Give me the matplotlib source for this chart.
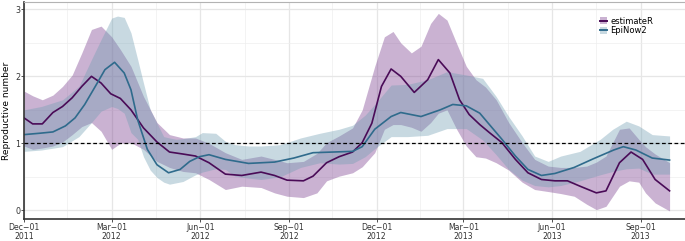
import numpy as np
import matplotlib
matplotlib.use("Agg")
import matplotlib.pyplot as plt
from matplotlib.patches import Rectangle
from matplotlib.lines import Line2D
from matplotlib.legend_handler import HandlerBase

START = np.datetime64("2011-12-01")

# ---- estimateR (days since 2011-12-01) ----
est_days = [0, 9, 19, 30, 40, 50, 60, 70, 80, 90, 100, 111, 124, 138, 151, 165, 178, 192,
            209, 226, 246, 260, 273, 290, 300, 314, 327, 341, 351, 361, 371, 381, 391, 405,
            419, 430, 442, 452, 462, 473, 483, 496, 510, 523, 537, 551, 564, 577, 594, 604,
            618, 630, 642, 655, 670]
est_mid = [1.38, 1.29, 1.29, 1.46, 1.55, 1.68, 1.85, 2.00, 1.90, 1.74, 1.67, 1.50, 1.23, 1.02,
           0.87, 0.84, 0.81, 0.71, 0.54, 0.52, 0.57, 0.52, 0.45, 0.44, 0.51, 0.71, 0.80, 0.87,
           1.01, 1.30, 1.85, 2.11, 2.00, 1.76, 1.95, 2.25, 2.05, 1.65, 1.43, 1.28, 1.16, 1.01,
           0.76, 0.56, 0.46, 0.44, 0.44, 0.36, 0.26, 0.29, 0.71, 0.87, 0.76, 0.46, 0.29]

est_band_days = [0, 9, 19, 30, 40, 50, 60, 70, 80, 91, 100, 111, 124, 138, 151, 165, 178, 192,
                 209, 226, 246, 260, 273, 290, 304, 314, 327, 341, 351, 364, 374, 383, 391, 402,
                 412, 422, 430, 439, 449, 459, 469, 479, 490, 503, 517, 530, 544, 557, 571, 584,
                 594, 604, 618, 628, 638, 645, 655, 670]
est_hi = [1.78, 1.71, 1.65, 1.72, 1.85, 2.02, 2.35, 2.70, 2.75, 2.59, 2.40, 2.15, 1.70, 1.31,
          1.13, 1.08, 1.08, 1.00, 0.86, 0.76, 0.81, 0.76, 0.71, 0.73, 0.85, 1.01, 1.11, 1.23,
          1.50, 2.15, 2.59, 2.67, 2.50, 2.35, 2.45, 2.79, 2.94, 2.84, 2.49, 2.15, 1.95, 1.84,
          1.65, 1.31, 1.01, 0.76, 0.66, 0.64, 0.64, 0.66, 0.72, 0.81, 1.21, 1.23, 1.06, 0.95,
          0.84, 0.71]
est_lo = [0.96, 0.91, 0.93, 0.96, 1.02, 1.13, 1.25, 1.31, 1.18, 0.91, 1.00, 1.01, 0.91, 0.73,
          0.64, 0.58, 0.56, 0.46, 0.31, 0.36, 0.34, 0.26, 0.21, 0.19, 0.26, 0.44, 0.51, 0.56,
          0.65, 0.86, 1.21, 1.28, 1.28, 1.24, 1.18, 1.31, 1.45, 1.50, 1.21, 0.96, 0.80, 0.78,
          0.71, 0.60, 0.42, 0.31, 0.28, 0.25, 0.21, 0.09, 0.01, 0.06, 0.36, 0.44, 0.42, 0.26,
          0.11, -0.01]

# ---- EpiNow2 ----
ep_days = [0, 16, 30, 43, 53, 63, 74, 84, 94, 104, 111, 118, 128, 138, 150, 162, 172, 182,
           192, 209, 233, 260, 280, 300, 321, 341, 351, 364, 381, 391, 412, 432, 445, 459,
           473, 483, 496, 510, 523, 537, 551, 571, 591, 612, 622, 635, 652, 670]
ep_mid = [1.13, 1.15, 1.17, 1.26, 1.38, 1.58, 1.85, 2.10, 2.21, 2.05, 1.80, 1.35, 0.91, 0.68,
          0.56, 0.61, 0.73, 0.80, 0.83, 0.76, 0.70, 0.72, 0.78, 0.86, 0.87, 0.88, 0.95, 1.21,
          1.40, 1.46, 1.40, 1.50, 1.58, 1.56, 1.45, 1.28, 1.06, 0.81, 0.61, 0.52, 0.55, 0.64,
          0.77, 0.90, 0.95, 0.90, 0.78, 0.75]

ep_band_days = [0, 18, 40, 57, 70, 80, 91, 97, 104, 111, 118, 124, 131, 138, 145, 151, 158,
                165, 178, 185, 199, 209, 219, 233, 246, 266, 287, 307, 327, 341, 354, 364, 381,
                398, 419, 439, 459, 476, 490, 503, 517, 530, 544, 557, 577, 598, 611, 625, 638,
                652, 670]
ep_hi = [1.50, 1.55, 1.65, 1.85, 2.25, 2.55, 2.87, 2.90, 2.88, 2.65, 2.25, 1.90, 1.50, 1.30,
         1.10, 1.08, 1.06, 1.07, 1.10, 1.16, 1.15, 1.03, 0.98, 0.96, 0.96, 0.98, 1.08, 1.15,
         1.21, 1.27, 1.42, 1.58, 1.87, 1.88, 1.95, 2.07, 2.02, 1.97, 1.70, 1.40, 1.11, 0.81,
         0.73, 0.81, 0.88, 1.06, 1.21, 1.33, 1.26, 1.13, 1.11]
ep_lo = [0.88, 0.90, 0.95, 1.10, 1.31, 1.48, 1.55, 1.52, 1.45, 1.16, 1.06, 0.80, 0.60, 0.49,
         0.42, 0.39, 0.41, 0.43, 0.53, 0.57, 0.62, 0.61, 0.51, 0.48, 0.46, 0.50, 0.64, 0.71,
         0.69, 0.70, 0.80, 0.92, 1.10, 1.10, 1.12, 1.22, 1.22, 1.05, 0.83, 0.61, 0.45, 0.37,
         0.35, 0.37, 0.44, 0.53, 0.58, 0.62, 0.63, 0.54, 0.54]

tick_dates = ["2011-12-01", "2012-03-01", "2012-06-01", "2012-09-01", "2012-12-01",
              "2013-03-01", "2013-06-01", "2013-09-01"]
tick_labels = ["Dec\u221201\n2011", "Mar\u221201\n2012", "Jun\u221201\n2012", "Sep\u221201\n2012",
               "Dec\u221201\n2012", "Mar\u221201\n2013", "Jun\u221201\n2013", "Sep\u221201\n2013"]
y_ticks = [0, 1, 2, 3]
series_names = ["estimateR", "EpiNow2"]

PURPLE = "#4a0b57"
BLUE = "#2f6b8c"
PURPLE_FILL = "#814894"
BLUE_FILL = "#6f9db2"
PURPLE_ALPHA = 0.42
BLUE_ALPHA = 0.38


def to_dates(d):
    return START + np.array(d).astype("timedelta64[D]")


fig = plt.figure(figsize=(6.85, 2.41), dpi=100)
ax = fig.add_axes([24 / 685, 22 / 241, 1 - 24 / 685, 217 / 241])

ax.fill_between(to_dates(est_band_days), est_lo, est_hi, color=PURPLE_FILL,
                alpha=PURPLE_ALPHA, lw=0)
ax.fill_between(to_dates(ep_band_days), ep_lo, ep_hi, color=BLUE_FILL,
                alpha=BLUE_ALPHA, lw=0)
ax.plot(to_dates(est_days), est_mid, color=PURPLE, lw=1.2, solid_joinstyle="round")
ax.plot(to_dates(ep_days), ep_mid, color=BLUE, lw=1.2, solid_joinstyle="round")
ax.axhline(1, color="black", lw=0.9, ls=(0, (3, 2)), zorder=3)

ax.set_xlim(START, START + np.timedelta64(670, "D"))
ax.set_ylim(-0.13, 3.11)

tdates = np.array(tick_dates, dtype="datetime64[D]")
ax.set_xticks(tdates)
ax.set_xticklabels(tick_labels, fontsize=5.6, color="#333333", linespacing=1.0)
minor = tdates[:-1] + (tdates[1:] - tdates[:-1]) / 2
minor = np.append(minor, tdates[-1] + np.timedelta64(46, "D"))
ax.set_xticks(minor, minor=True)
ax.set_yticks(y_ticks)
ax.set_yticklabels([str(v) for v in y_ticks], fontsize=5.8, color="#333333")
ax.set_yticks([0.5, 1.5, 2.5], minor=True)
ax.set_ylabel("Reproductive number", fontsize=6.5, labelpad=3)

ax.grid(which="major", color="#e6e6e6", lw=0.9)
ax.grid(which="minor", color="#eeeeee", lw=0.5)
ax.set_axisbelow(True)
ax.tick_params(which="major", length=2.0, width=0.6, color="#333333", pad=0.8)
ax.tick_params(which="minor", length=0)

for side in ["left", "bottom"]:
    ax.spines[side].set_color("#333333")
    ax.spines[side].set_linewidth(1.2)
ax.spines["top"].set_color("#b3b3b3")
ax.spines["top"].set_linewidth(0.8)
ax.spines["right"].set_visible(False)


class KeyHandler(HandlerBase):
    def __init__(self, fill, line):
        super().__init__()
        self.fill = fill
        self.line = line

    def create_artists(self, legend, orig_handle, xdescent, ydescent, width, height, fontsize, trans):
        r = Rectangle((-xdescent, -ydescent), width, height, facecolor=self.fill[0],
                      alpha=self.fill[1], lw=0, transform=trans)
        l = Line2D([-xdescent, -xdescent + width], [height / 2 - ydescent] * 2,
                   color=self.line, lw=1.4, transform=trans)
        return [r, l]


h1 = Line2D([], [])
h2 = Line2D([], [])
leg = ax.legend([h1, h2], series_names, loc="upper left", bbox_to_anchor=(0.862, 0.96),
                fontsize=6.0, frameon=False, handlelength=0.9, handleheight=0.95,
                handletextpad=0.35, labelspacing=0.1, borderpad=0.2,
                handler_map={h1: KeyHandler((PURPLE_FILL, PURPLE_ALPHA), PURPLE),
                             h2: KeyHandler((BLUE_FILL, BLUE_ALPHA), BLUE)})

fig.savefig("out.png", dpi=100)
